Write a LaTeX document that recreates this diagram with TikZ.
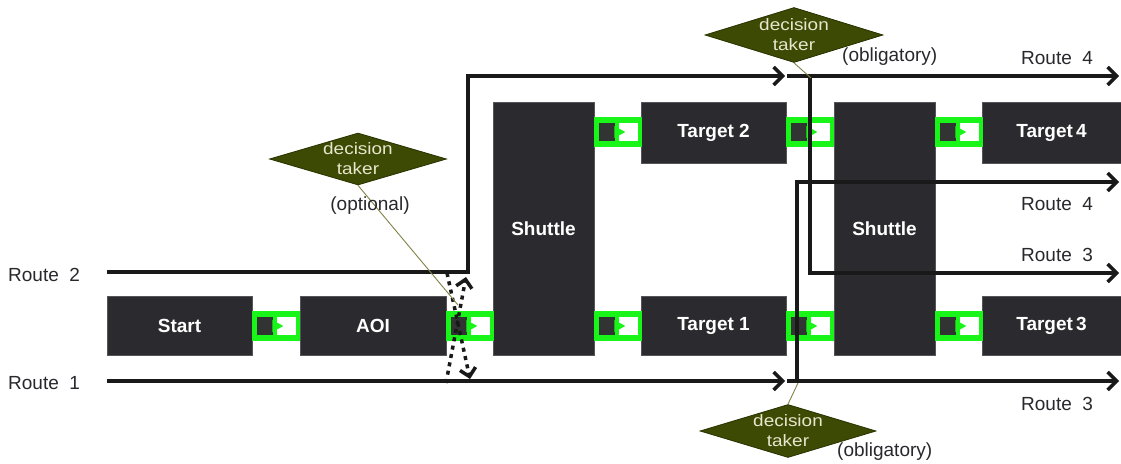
\documentclass[tikz,border=0pt]{standalone}
\usepackage{fontspec}
\setmainfont{Liberation Sans}
\newfontfamily\dfont{Liberation Sans}[FakeStretch=1.15]
\usetikzlibrary{arrows.meta,shapes.geometric}
\definecolor{boxc}{RGB}{43,43,47}
\definecolor{grn}{RGB}{25,245,25}
\definecolor{sqc}{RGB}{50,52,52}
\definecolor{dfill}{RGB}{60,74,4}
\definecolor{dline}{RGB}{40,50,0}
\definecolor{dtext}{RGB}{232,230,205}
\definecolor{lbl}{RGB}{40,40,45}
\definecolor{thinc}{RGB}{130,130,70}
\begin{document}
\begin{tikzpicture}[x=1pt,y=-1pt,
  box/.style={fill=boxc,draw=boxc!80!white,line width=0.6pt,text=white,inner sep=0,
    font=\fontsize{19}{22}\selectfont\bfseries},
  dtaker/.style={diamond,fill=dfill,draw=dline,line width=0.8pt,inner sep=0},
  dtext/.style={text=dtext,align=center,inner sep=0,font=\dfont\fontsize{16.5}{20}\selectfont},
  rlabel/.style={text=lbl,inner sep=0,font=\fontsize{19}{22}\selectfont},
  route/.style={line width=3.5pt,black!90},
  rarrow/.style={route,-{Straight Barb[length=9pt,width=18pt]}},
  dotarrow/.style={line width=3.5pt,black!90,dash pattern=on 4pt off 4.5pt,
    -{Straight Barb[length=8pt,width=16pt]}},
  thinline/.style={draw=thinc,line width=0.9pt},
  conn/.pic={
    \fill[grn] (0,-15) rectangle (48,15);
    \fill[white] (25,-9) rectangle (44,9);
    \fill[sqc] (5,-9) rectangle (21,9);
    \fill[grn] (20,-6) -- (31,0) -- (20,6) -- cycle;
  }]
\useasboundingbox (0,0) rectangle (1121,463);
\fill[white] (0,0) rectangle (1121,463);

% boxes
\node[box,minimum width=145,minimum height=59] (start) at (179.5,325.5) {Start};
\node[box,minimum width=146,minimum height=59] (aoi) at (373,325.5) {AOI};
\node[box,minimum width=101,minimum height=253] (sh1) at (543.5,228.5) {Shuttle};
\node[box,minimum width=145,minimum height=59] (t1) at (713.5,325.5) {Target 1};
\node[box,minimum width=145,minimum height=61] (t2) at (713.5,132.5) {Target 2};
\node[box,minimum width=101,minimum height=253] (sh2) at (884.5,228.5) {Shuttle};
\node[box,minimum width=139,minimum height=59] (t3) at (1051.5,325.5) {Target\,3};
\node[box,minimum width=139,minimum height=61] (t4) at (1051.5,132.5) {Target\,4};

% green connectors
\pic at (start.east |- 0,326) {conn};
\pic at (aoi.east |- 0,326) {conn};
\pic at (sh1.east |- 0,326) {conn};
\pic at (t1.east |- 0,326) {conn};
\pic at (sh2.east |- 0,326) {conn};
\pic at (sh1.east |- 0,132) {conn};
\pic at (t2.east |- 0,132) {conn};
\pic at (sh2.east |- 0,132) {conn};

% route coordinates
\coordinate (r2s) at (107,272);
\coordinate (r2c) at (468,272);
\coordinate (r2u) at (468,76);
\coordinate (r2e) at (785,76);
\coordinate (r4s) at (787,76);
\coordinate (r4e) at (1119,76);
\coordinate (j1) at (810,76);
\coordinate (j1d) at (810,273);
\coordinate (r3me) at (1119,273);
\coordinate (r1s) at (107,381);
\coordinate (r1e) at (785,381);
\coordinate (r3s) at (787,381);
\coordinate (r3e) at (1119,381);
\coordinate (j2) at (797,381);
\coordinate (j2u) at (797,182);
\coordinate (r4me) at (1119,182);

\draw[rarrow] (r2s) -- (r2c) -- (r2u) -- (r2e);
\draw[rarrow] (r4s) -- (r4e);
\draw[rarrow] (j1) -- (j1d) -- (r3me);
\draw[rarrow] (r1s) -- (r1e);
\draw[rarrow] (r3s) -- (r3e);
\draw[rarrow] (j2) -- (j2u) -- (r4me);

% dotted switch arrows
\coordinate (da1) at (447,273);
\coordinate (da2) at (470,379);
\coordinate (db1) at (446,383);
\coordinate (db2) at (466,277);
\draw[dotarrow] (da1) -- (da2);
\draw[dotarrow] (db1) -- (db2);

% decision takers
\node[dtaker,minimum width=177,minimum height=52] (dopt) at (358,159) {};
\node[dtext] (doptt) at (dopt.center) {decision\\taker};
\node[dtaker,minimum width=178,minimum height=55] (dtop) at (794,35) {};
\node[dtext] (dtopt) at (dtop.center) {decision\\taker};
\node[dtaker,minimum width=176,minimum height=53] (dbot) at (788,431) {};
\node[dtext] (dbott) at (dbot.center) {decision\\taker};
\coordinate (dopte) at (458,305);
\coordinate (dtope) at (811,78);
\coordinate (dbote) at (798,383);
\draw[thinline] (dopt.south) -- (dopte);
\draw[thinline] (dtop.south) -- (dtope);
\draw[thinline] (dbot.north) -- (dbote);

% labels
\node[rlabel,anchor=west] (l2) at (8,275) {Route~~2};
\node[rlabel,anchor=west] (l1) at (8,383) {Route~~1};
\node[rlabel,anchor=west] (l4a) at (1021,58) {Route~~4};
\node[rlabel,anchor=west] (l4b) at (1021,204) {Route~~4};
\node[rlabel,anchor=west] (l3a) at (1021,255) {Route~~3};
\node[rlabel,anchor=west] (l3b) at (1021,404) {Route~~3};
\node[rlabel] (lopt) at (370,206) {(optional)};
\node[rlabel,anchor=west] (lob1) at (842,57) {(obligatory)};
\node[rlabel,anchor=west] (lob2) at (837,452) {(obligatory)};
\end{tikzpicture}
\end{document}
